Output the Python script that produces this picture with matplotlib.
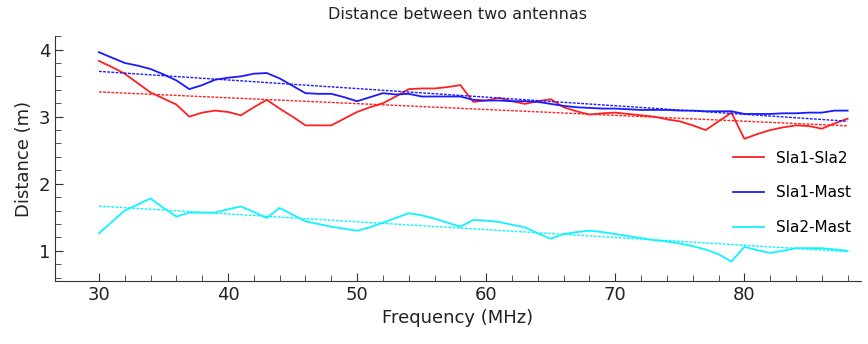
import numpy as np
import matplotlib.pyplot as plt
from matplotlib.ticker import MultipleLocator, FixedLocator

# Frequency points (MHz)
freq = np.arange(30, 89)

sla1_sla2 = [3.83, 3.74, 3.64, 3.50, 3.36, 3.27, 3.18, 3.00, 3.06, 3.09,
             3.07, 3.02, 3.14, 3.25, 3.12, 3.00, 2.87, 2.87, 2.87, 2.97,
             3.07, 3.14, 3.20, 3.30, 3.41, 3.42, 3.42, 3.44, 3.47, 3.22,
             3.24, 3.28, 3.23, 3.19, 3.23, 3.26, 3.14, 3.08, 3.03, 3.05,
             3.06, 3.04, 3.02, 3.00, 2.96, 2.93, 2.87, 2.80, 2.93, 3.06,
             2.67, 2.74, 2.80, 2.84, 2.87, 2.86, 2.82, 2.90, 2.97]

sla1_mast = [3.96, 3.88, 3.80, 3.76, 3.71, 3.63, 3.54, 3.41, 3.47, 3.55,
             3.58, 3.60, 3.64, 3.65, 3.57, 3.46, 3.35, 3.34, 3.34, 3.29,
             3.23, 3.29, 3.35, 3.33, 3.34, 3.30, 3.30, 3.30, 3.30, 3.25,
             3.24, 3.24, 3.23, 3.23, 3.22, 3.19, 3.16, 3.14, 3.13, 3.12,
             3.12, 3.11, 3.10, 3.10, 3.10, 3.09, 3.09, 3.08, 3.08, 3.08,
             3.04, 3.04, 3.04, 3.05, 3.05, 3.06, 3.06, 3.09, 3.09]

sla2_mast = [1.26, 1.43, 1.60, 1.69, 1.78, 1.64, 1.51, 1.57, 1.57, 1.57,
             1.62, 1.66, 1.58, 1.49, 1.64, 1.54, 1.44, 1.40, 1.36, 1.33,
             1.30, 1.35, 1.42, 1.49, 1.56, 1.53, 1.48, 1.42, 1.36, 1.46,
             1.45, 1.43, 1.39, 1.35, 1.26, 1.18, 1.25, 1.28, 1.30, 1.28,
             1.25, 1.22, 1.19, 1.16, 1.14, 1.11, 1.07, 1.02, 0.95, 0.84,
             1.06, 1.01, 0.97, 1.00, 1.04, 1.04, 1.04, 1.02, 1.00]

series = [('Sla1-Sla2', sla1_sla2, '#ff2020'),
          ('Sla1-Mast', sla1_mast, '#1a1aff'),
          ('Sla2-Mast', sla2_mast, '#10f4ff')]

fig = plt.figure(figsize=(8.68, 3.44), dpi=100)
ax = fig.add_axes([0.0634, 0.183, 0.928, 0.712])

for name, vals, col in series:
    ax.plot(freq, vals, color=col, lw=1.3, label=name)
    # linear trend
    k, b = np.polyfit(freq, vals, 1)
    ax.plot(freq, k * freq + b, color=col, lw=1.0, dashes=(2, 1))

ax.set_xlim(26.6, 89.0)
ax.set_ylim(0.55, 4.2)
ax.xaxis.set_major_locator(FixedLocator([30, 40, 50, 60, 70, 80]))
ax.xaxis.set_minor_locator(FixedLocator(np.arange(30, 89, 2)))
ax.yaxis.set_major_locator(MultipleLocator(1))
ax.yaxis.set_minor_locator(MultipleLocator(0.2))
ax.tick_params(which='both', direction='in', colors='#333333', labelcolor='#222222', labelsize=13)
ax.tick_params(which='major', length=6)
ax.tick_params(which='minor', length=4)
for s in ['top', 'right']:
    ax.spines[s].set_visible(False)
for s in ['left', 'bottom']:
    ax.spines[s].set_color('#333333')

ax.set_xlabel('Frequency (MHz)', fontsize=13, color='#222222')
ax.set_ylabel('Distance (m)', fontsize=13, color='#222222')
ax.set_title('Distance between two antennas', fontsize=11.5, color='#222222', pad=12)

handles = ax.get_lines()[0::2]
ax.legend(handles, [s[0] for s in series], loc='center right', bbox_to_anchor=(1.005, 0.36),
          frameon=False, fontsize=11, handlelength=2.0, labelspacing=1.3, handletextpad=0.8)

fig.savefig('out.png', dpi=100)
